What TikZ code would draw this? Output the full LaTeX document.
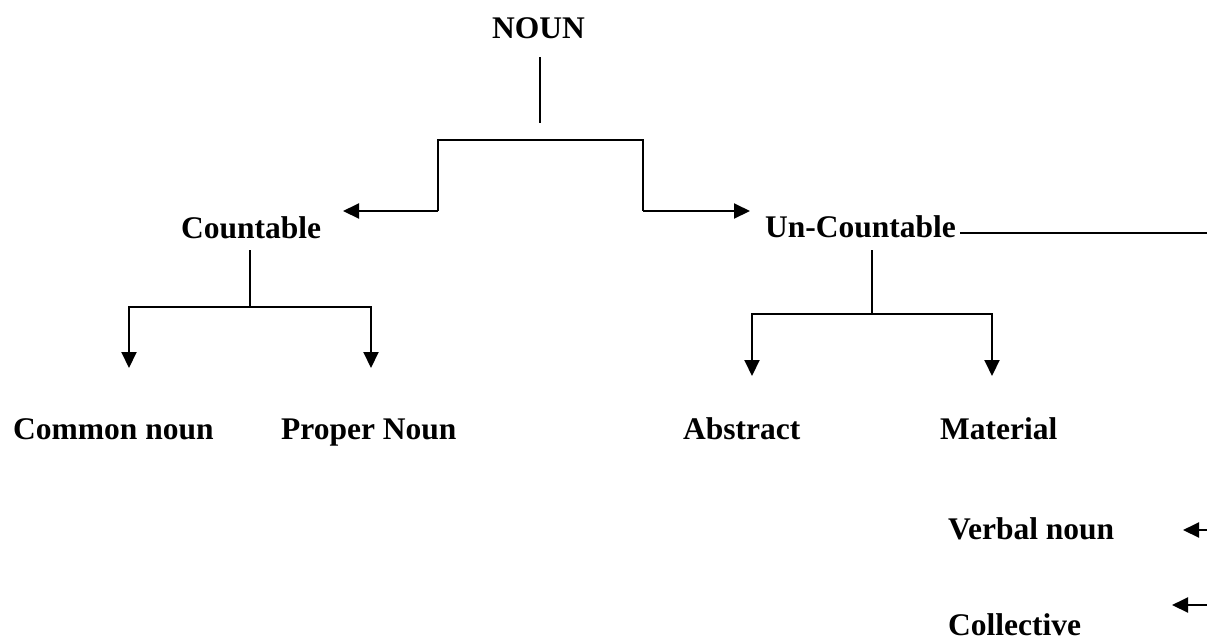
\documentclass[tikz,border=0pt]{standalone}
\usepackage{fontspec}
\setmainfont{Liberation Serif}
\usetikzlibrary{arrows.meta}
\tikzset{
  lbl/.style={font=\bfseries\fontsize{31.5}{36}\selectfont, inner sep=0pt, anchor=base west},
  link/.style={line width=2pt, line cap=butt, line join=miter},
  tip/.style={-{Triangle[length=16pt,width=15pt]}}
}
\begin{document}
\begin{tikzpicture}[x=1pt,y=-1pt]
  \useasboundingbox (0,0) rectangle (1207,641);

  % labels
  \node[lbl] (noun)       at (492,38)  {NOUN};
  \node[lbl] (countable)  at (181,238) {Countable};
  \node[lbl] (uncount)    at (765,237) {Un-Countable};
  \node[lbl] (common)     at (13,439)  {Common noun};
  \node[lbl] (proper)     at (281,439) {Proper Noun};
  \node[lbl] (abstract)   at (683,439) {Abstract};
  \node[lbl] (material)   at (940,439) {Material};
  \node[lbl] (verbal)     at (948,539) {Verbal noun};
  \node[lbl] (collective) at (948,635) {Collective};

  % junction points
  \coordinate (nTop) at (540,57);
  \coordinate (nBot) at (540,123);
  \coordinate (ct)   at (540,140);
  \coordinate (bl)   at (438,211);
  \coordinate (br)   at (643,211);
  \coordinate (cA)   at (343,211);
  \coordinate (uA)   at (750,211);

  \coordinate (cTop) at (250,250);
  \coordinate (cMid) at (250,307);
  \coordinate (cmA)  at (129,368);
  \coordinate (prA)  at (371,368);

  \coordinate (uTop) at (872,250);
  \coordinate (uMid) at (872,314);
  \coordinate (abA)  at (752,376);
  \coordinate (maA)  at (992,376);

  \coordinate (uLs)  at (960,233);
  \coordinate (uLe)  at (1207,233);
  \coordinate (vS)   at (1207,530);
  \coordinate (vA)   at (1183,530);
  \coordinate (kS)   at (1207,605);
  \coordinate (kA)   at (1172,605);

  % NOUN -> Countable / Un-Countable
  \draw[link] (nTop) -- (nBot);
  \draw[link] (bl) |- (ct) -| (br);
  \draw[link,tip] (bl) -- (cA);
  \draw[link,tip] (br) -- (uA);

  % Countable branch
  \draw[link] (cTop) -- (cMid);
  \draw[link,tip] (cMid) -| (cmA);
  \draw[link,tip] (cMid) -| (prA);

  % Un-Countable branch
  \draw[link] (uTop) -- (uMid);
  \draw[link,tip] (uMid) -| (abA);
  \draw[link,tip] (uMid) -| (maA);

  % side line and small arrows at the right edge
  \draw[link] (uLs) -- (uLe);
  \draw[link,tip] (vS) -- (vA);
  \draw[link,tip] (kS) -- (kA);
\end{tikzpicture}
\end{document}
